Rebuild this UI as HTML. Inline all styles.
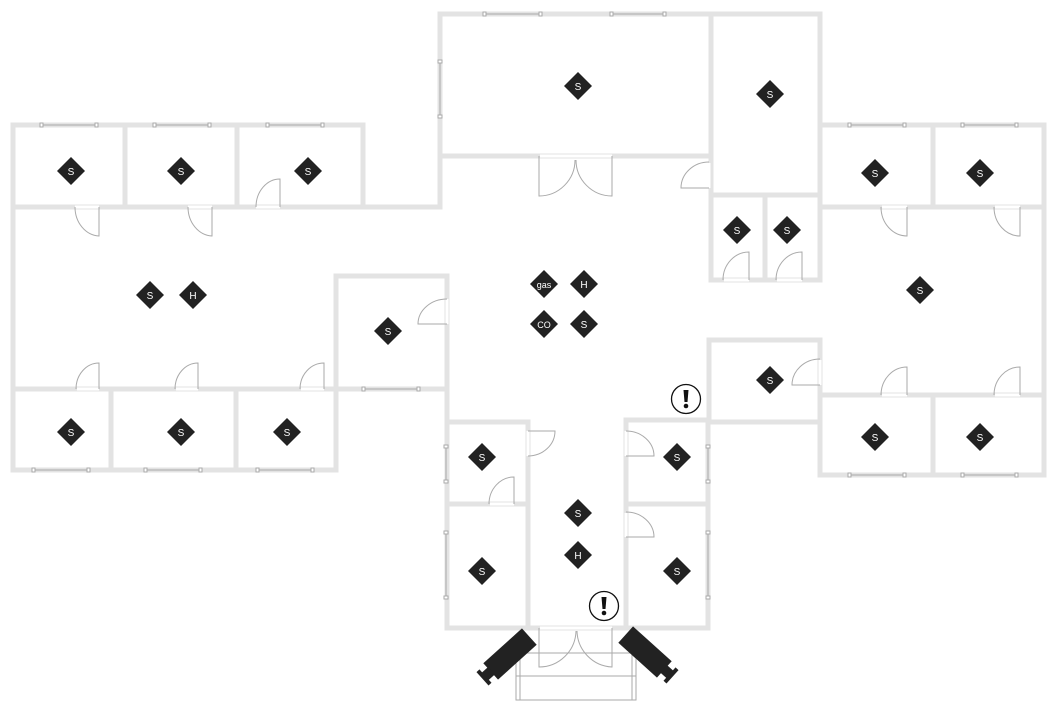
<!DOCTYPE html>
<html><head><meta charset="utf-8"><style>
html,body{margin:0;padding:0;background:#fff;}
svg{display:block;font-family:"Liberation Sans",sans-serif;}
</style></head><body>
<svg width="1058" height="726" viewBox="0 0 1058 726" xmlns="http://www.w3.org/2000/svg">
<g stroke="#e3e3e3" stroke-width="5" fill="none" stroke-linecap="square">
<!-- left wing -->
<path d="M13 125 H363 V207 M13 125 V470 H336 V276 H447 V628 H708 V422 H820 V475 H1044 V125 H820 V14 H440 V207 H13"/>
<path d="M125 125 V207 M237 125 V207"/>
<path d="M13 389 H447 M111 389 V470 M236 389 V470"/>
<path d="M440 156 H711 M711 14 V280 H820 V195 H711 M765 195 V280 M820 14 V280"/>
<path d="M820 207 H1044 M933 125 V207 M820 395 H1044 M933 395 V475 M820 340 V475 M709 340 H820 M709 340 V420 M626 420 H709"/>
<path d="M447 422 H528 V628 M447 504 H528 M626 422 V628 M626 504 H708"/>
</g>
<!-- windows -->
<g stroke="#aaa" stroke-width="1" fill="#fff">
<path d="M485 14 H540 M612 14 H664 M42 125 H96 M155 125 H209 M268 125 H322 M34 470 H88 M146 470 H200 M258 470 H312 M364 389 H418 M850 125 H904 M963 125 H1016 M850 475 H904 M963 475 H1016 M440 62 V116 M446 447 V481 M446 533 V597 M708 447 V481 M708 533 V597"/>
<g>
<rect x="483" y="12" width="3" height="4"/><rect x="539" y="12" width="3" height="4"/><rect x="610" y="12" width="3" height="4"/><rect x="663" y="12" width="3" height="4"/>
<rect x="40" y="123" width="3" height="4"/><rect x="95" y="123" width="3" height="4"/><rect x="153" y="123" width="3" height="4"/><rect x="208" y="123" width="3" height="4"/><rect x="266" y="123" width="3" height="4"/><rect x="321" y="123" width="3" height="4"/>
<rect x="32" y="468" width="3" height="4"/><rect x="87" y="468" width="3" height="4"/><rect x="144" y="468" width="3" height="4"/><rect x="199" y="468" width="3" height="4"/><rect x="256" y="468" width="3" height="4"/><rect x="311" y="468" width="3" height="4"/>
<rect x="362" y="387" width="3" height="4"/><rect x="417" y="387" width="3" height="4"/>
<rect x="848" y="123" width="3" height="4"/><rect x="903" y="123" width="3" height="4"/><rect x="961" y="123" width="3" height="4"/><rect x="1015" y="123" width="3" height="4"/>
<rect x="848" y="473" width="3" height="4"/><rect x="903" y="473" width="3" height="4"/><rect x="961" y="473" width="3" height="4"/><rect x="1015" y="473" width="3" height="4"/>
<rect x="438" y="60" width="4" height="3"/><rect x="438" y="115" width="4" height="3"/>
<rect x="444" y="445" width="4" height="3"/><rect x="444" y="480" width="4" height="3"/><rect x="444" y="531" width="4" height="3"/><rect x="444" y="596" width="4" height="3"/>
<rect x="706" y="445" width="4" height="3"/><rect x="706" y="480" width="4" height="3"/><rect x="706" y="531" width="4" height="3"/><rect x="706" y="596" width="4" height="3"/>
</g>
</g>
<!-- door openings (erase wall) -->
<g stroke="#fff" stroke-width="3">
<path d="M75 207 H99 M188 207 H212 M256 207 H280 M77 389 H99 M176 389 H198 M301 389 H324 M447 299 V324 M540 156 H612 M709 163 V188 M724 280 H749 M777 280 H802 M882 207 H907 M995 207 H1020 M882 395 H907 M995 395 H1020 M820 360 V385 M528 431 V456 M626 431 V456 M490 504 H514 M626 513 V537 M540 628 H612"/>
</g>
<!-- doors -->
<g stroke="#aaa" stroke-width="1" fill="none">
<path d="M75 207 A25 29 0 0 0 99 236 V207 M188 207 A25 29 0 0 0 212 236 V207"/>
<path d="M256 207 A24 28 0 0 1 280 179 V207"/>
<path d="M76 389 A23 26 0 0 1 99 363 V389 M175 389 A23 26 0 0 1 198 363 V389 M300 389 A24 26 0 0 1 324 363 V389"/>
<path d="M447 299 A29 25 0 0 0 418 324 H447"/>
<path d="M539 156 V196 A36 36 0 0 0 575 160 M612 156 V196 A36 36 0 0 1 576 160"/>
<path d="M709 162 A28 26 0 0 0 681 188 H709"/>
<path d="M723 280 A26 28 0 0 1 749 252 V280 M776 280 A26 28 0 0 1 802 252 V280"/>
<path d="M881 207 A26 29 0 0 0 907 236 V207 M994 207 A26 29 0 0 0 1020 236 V207"/>
<path d="M881 395 A26 28 0 0 1 907 367 V395 M994 395 A26 28 0 0 1 1020 367 V395"/>
<path d="M820 359 A28 26 0 0 0 792 385 H820"/>
<path d="M528 431 H555 A27 25 0 0 1 528 456"/>
<path d="M626 431 A28 25 0 0 1 654 456 H626"/>
<path d="M489 504 A25 27 0 0 1 514 477 V504"/>
<path d="M626 512 A28 25 0 0 1 654 537 H626"/>
<path d="M539 628 V667 A37 37 0 0 0 576 631 M612 628 V667 A37 37 0 0 1 577 631"/>
<path d="M516 653 H636 V700 H516 Z M516 676 H636 M520 653 V700 M632 653 V700"/>
</g>
<!-- cameras -->
<g fill="#222">
<g transform="translate(510 654) rotate(-42)"><rect x="-26" y="-11" width="52" height="22"/><rect x="-34" y="-5" width="9" height="10"/><rect x="-37" y="-9" width="4" height="18"/></g>
<g transform="translate(645 652) rotate(42)"><rect x="-26" y="-11" width="52" height="22"/><rect x="25" y="-5" width="9" height="10"/><rect x="33" y="-9" width="4" height="18"/></g>
</g>
<!-- exclamation -->
<g>
<circle cx="686" cy="399" r="14.5" fill="#fff" stroke="#111" stroke-width="1.3"/>
<path d="M683.5 390 h5 l-1 12 h-3 z" fill="#111"/><circle cx="686" cy="406" r="2.3" fill="#111"/>
<circle cx="604" cy="606" r="14.5" fill="#fff" stroke="#111" stroke-width="1.3"/>
<path d="M601.5 597 h5 l-1 12 h-3 z" fill="#111"/><circle cx="604" cy="613" r="2.3" fill="#111"/>
</g>
<!-- detectors -->
<g font-size="10" font-weight="bold" fill="#fff" text-anchor="middle">
<g id="d">
</g>
</g>
<g fill="#222">
<path d="M71 157 l14 14 -14 14 -14 -14z M181 157 l14 14 -14 14 -14 -14z M308 157 l14 14 -14 14 -14 -14z M150 281 l14 14 -14 14 -14 -14z M193 281 l14 14 -14 14 -14 -14z M388 317 l14 14 -14 14 -14 -14z M71 418 l14 14 -14 14 -14 -14z M181 418 l14 14 -14 14 -14 -14z M287 418 l14 14 -14 14 -14 -14z M578 72 l14 14 -14 14 -14 -14z M770 80 l14 14 -14 14 -14 -14z M875 159 l14 14 -14 14 -14 -14z M980 159 l14 14 -14 14 -14 -14z M737 216 l14 14 -14 14 -14 -14z M787 216 l14 14 -14 14 -14 -14z M544 270 l14 14 -14 14 -14 -14z M584 270 l14 14 -14 14 -14 -14z M544 310 l14 14 -14 14 -14 -14z M584 310 l14 14 -14 14 -14 -14z M920 276 l14 14 -14 14 -14 -14z M770 366 l14 14 -14 14 -14 -14z M875 423 l14 14 -14 14 -14 -14z M980 423 l14 14 -14 14 -14 -14z M482 443 l14 14 -14 14 -14 -14z M677 443 l14 14 -14 14 -14 -14z M578 499 l14 14 -14 14 -14 -14z M578 541 l14 14 -14 14 -14 -14z M482 557 l14 14 -14 14 -14 -14z M677 557 l14 14 -14 14 -14 -14z"/>
</g>
<g font-size="10" fill="#fff" text-anchor="middle" font-family="Liberation Sans, sans-serif">
<text x="71" y="175">S</text><text x="181" y="175">S</text><text x="308" y="175">S</text><text x="150" y="299">S</text><text x="193" y="299">H</text><text x="388" y="335">S</text>
<text x="71" y="436">S</text><text x="181" y="436">S</text><text x="287" y="436">S</text><text x="578" y="90">S</text><text x="770" y="98">S</text>
<text x="875" y="177">S</text><text x="980" y="177">S</text><text x="737" y="234">S</text><text x="787" y="234">S</text>
<text x="544" y="288" font-size="9">gas</text><text x="584" y="288">H</text><text x="544" y="328" font-size="9">CO</text><text x="584" y="328">S</text>
<text x="920" y="294">S</text><text x="770" y="384">S</text><text x="875" y="441">S</text><text x="980" y="441">S</text>
<text x="482" y="461">S</text><text x="677" y="461">S</text><text x="578" y="517">S</text><text x="578" y="559">H</text><text x="482" y="575">S</text><text x="677" y="575">S</text>
</g>
</svg>
</body></html>
